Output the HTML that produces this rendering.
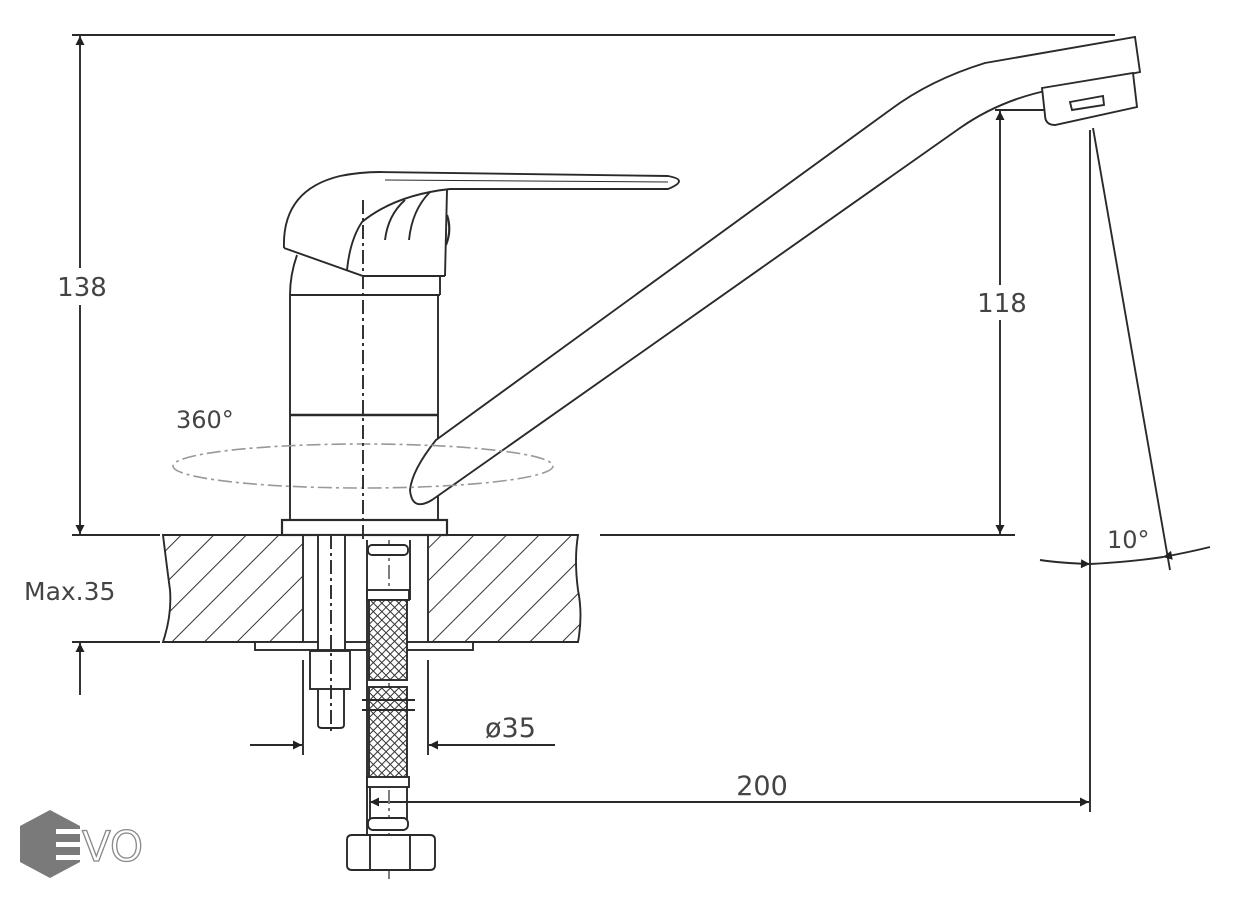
<!DOCTYPE html>
<html><head><meta charset="utf-8"><style>
html,body{margin:0;padding:0;background:#fff;}
svg{display:block;}
text{font-family:"DejaVu Sans","Liberation Sans",sans-serif;fill:#444;}
</style></head><body>
<svg width="1236" height="900" viewBox="0 0 1236 900" xmlns="http://www.w3.org/2000/svg">
<defs>
<pattern id="hatch" width="23" height="23" patternUnits="userSpaceOnUse" patternTransform="rotate(45)">
<line x1="0" y1="0" x2="0" y2="23" stroke="#333" stroke-width="2"/>
</pattern>
<pattern id="mesh" width="6" height="6" patternUnits="userSpaceOnUse" patternTransform="rotate(45)">
<rect width="6" height="6" fill="#fff"/>
<path d="M0 0H6M0 0V6" stroke="#333" stroke-width="2"/>
</pattern>
<marker id="ar" viewBox="0 0 10 10" refX="10" refY="5" markerWidth="20" markerHeight="9" markerUnits="userSpaceOnUse" orient="auto">
<path d="M0 0L10 5L0 10z" fill="#222"/>
</marker>
</defs>
<g stroke="#2a2a2a" stroke-width="1.9" fill="none">
<line x1="72" y1="35" x2="1115" y2="35"/>
<line x1="72" y1="535" x2="160" y2="535"/>
<line x1="72" y1="642" x2="160" y2="642"/>
<line x1="600" y1="535" x2="1015" y2="535"/>
<line x1="995" y1="110" x2="1048" y2="110"/>
<line x1="80" y1="270" x2="80" y2="36" marker-end="url(#ar)"/>
<line x1="80" y1="305" x2="80" y2="534" marker-end="url(#ar)"/>
<line x1="80" y1="695" x2="80" y2="643" marker-end="url(#ar)"/>
<line x1="1000" y1="285" x2="1000" y2="111" marker-end="url(#ar)"/>
<line x1="1000" y1="320" x2="1000" y2="534" marker-end="url(#ar)"/>
<line x1="1090" y1="130" x2="1090" y2="812"/>
<line x1="1093" y1="128" x2="1170" y2="570"/>
<path d="M1040 560 Q1060 563 1090 564" marker-end="url(#ar)"/>
<path d="M1210 547 Q1190 552 1163 557" marker-end="url(#ar)"/>
<path d="M1090 564 Q1130 562 1163 557"/>
<line x1="430" y1="802" x2="1089" y2="802" marker-end="url(#ar)"/>
<line x1="430" y1="802" x2="370" y2="802" marker-end="url(#ar)"/>
<path d="M163 535 L303 535 L303 642 L163 642 Q172 615 170 590 Q166 560 163 535Z" fill="url(#hatch)"/>
<path d="M428 535 L578 535 Q574 560 578 590 Q583 615 578 642 L428 642Z" fill="url(#hatch)"/>
<rect x="255" y="642" width="218" height="8" fill="#fff"/>
<rect x="282" y="520" width="165" height="15" fill="#fff" stroke-width="2.2"/>
<line x1="290" y1="295" x2="290" y2="520"/>
<line x1="438" y1="295" x2="438" y2="520"/>
<line x1="290" y1="415" x2="438" y2="415" stroke-width="2.4"/>
<line x1="290" y1="295" x2="440" y2="295"/>
<path d="M297 255 Q290 275 290 295"/>
<line x1="440" y1="277" x2="440" y2="295"/>
<path d="M284 248 Q282 190 340 176 Q360 172 380 172 L668 176 Q690 180 668 189 L450 189 Q395 195 362 222 Q350 240 347 270" fill="#fff"/>
<path d="M284 248 L363 276 L445 276"/>
<path d="M447 190 L445 276"/>
<path d="M447 215 Q452 230 446 245" stroke-width="2.2"/>
<path d="M405 200 Q388 215 385 240"/>
<path d="M430 192 Q412 210 409 240"/>
<path d="M385 180 L668 182" stroke-width="1"/>
<path d="M436 440 L890 110 Q930 80 985 63 L1135 37 L1140 72 L1050 90 Q1000 100 960 128 L432 500 Q412 512 410 490 Q412 470 436 440Z" fill="#fff"/>
<path d="M1042 88 L1133 73 L1137 107 L1055 125 Q1045 125 1045 115Z" fill="#fff"/>
<path d="M1070 102 L1103 96 L1104 105 L1072 110Z"/>
<ellipse cx="363" cy="466" rx="190" ry="22" stroke="#999" stroke-width="1.6" stroke-dasharray="14 4 3 4"/>
<line x1="363" y1="200" x2="363" y2="540" stroke-dasharray="14 4 3 4"/>
<line x1="389" y1="540" x2="389" y2="880" stroke-dasharray="14 4 3 4" stroke="#777"/>
<rect x="318" y="535" width="27" height="115" fill="#fff"/>
<line x1="331" y1="535" x2="331" y2="735" stroke-dasharray="14 4 3 4"/>
<rect x="310" y="651" width="40" height="38" fill="none"/>
<path d="M318 689 L318 725 Q318 728 322 728 L340 728 Q344 728 344 725 L344 689"/>
<line x1="367" y1="540" x2="367" y2="835"/>
<line x1="410" y1="540" x2="410" y2="600"/>
<rect x="368" y="545" width="40" height="10" rx="4" fill="#fff"/>
<rect x="367" y="590" width="42" height="10" fill="#fff"/>
<rect x="369" y="600" width="38" height="80" fill="url(#mesh)"/>
<rect x="369" y="687" width="38" height="92" fill="url(#mesh)"/>
<line x1="362" y1="700" x2="415" y2="700"/>
<line x1="362" y1="710" x2="415" y2="710"/>
<rect x="367" y="777" width="42" height="10" fill="#fff"/>
<line x1="370" y1="787" x2="370" y2="820"/>
<line x1="407" y1="787" x2="407" y2="820"/>
<rect x="368" y="818" width="40" height="12" rx="5" fill="#fff"/>
<path d="M352 835 L430 835 Q435 835 435 840 L435 865 Q435 870 430 870 L352 870 Q347 870 347 865 L347 840 Q347 835 352 835Z" fill="#fff"/>
<line x1="370" y1="835" x2="370" y2="870"/>
<line x1="410" y1="835" x2="410" y2="870"/>
<line x1="303" y1="660" x2="303" y2="755"/>
<line x1="428" y1="660" x2="428" y2="755"/>
<line x1="250" y1="745" x2="302" y2="745" marker-end="url(#ar)"/>
<line x1="555" y1="745" x2="429" y2="745" marker-end="url(#ar)"/>
</g>
<rect x="48" y="268" width="66" height="34" fill="#fff"/>
<text x="82" y="296" font-size="26" text-anchor="middle">138</text>
<rect x="970" y="285" width="62" height="34" fill="#fff"/>
<text x="1002" y="312" font-size="26" text-anchor="middle">118</text>
<text x="24" y="600" font-size="25">Max.35</text>
<text x="176" y="428" font-size="24">360°</text>
<text x="485" y="737" font-size="27">ø35</text>
<text x="762" y="795" font-size="27" text-anchor="middle">200</text>
<text x="1107" y="548" font-size="24">10°</text>
<polygon points="50,810 80,826 80,862 50,878 20,862 20,826" fill="#7a7a7a"/>
<g fill="#fff"><rect x="56" y="829" width="26" height="5"/><rect x="56" y="842" width="26" height="5"/><rect x="56" y="855" width="26" height="5"/></g>
<text x="82" y="861" font-size="42" stroke="#888" stroke-width="1.3" style="fill:#fff">VO</text>
</svg>
</body></html>
